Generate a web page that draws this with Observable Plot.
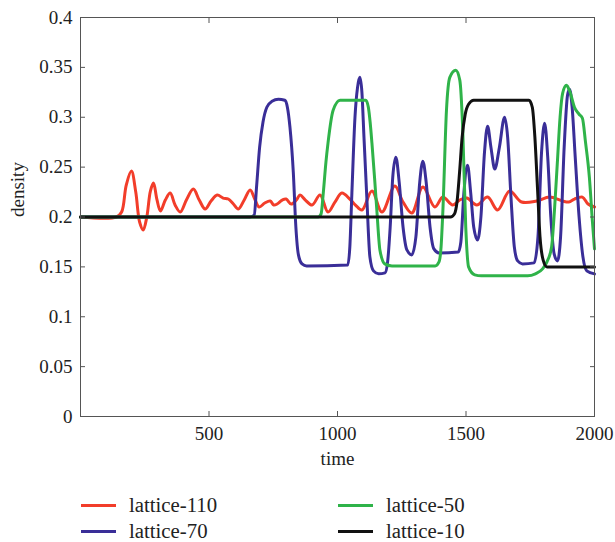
<!DOCTYPE html>
<html>
<head>
<meta charset="utf-8">
<script src="https://cdn.jsdelivr.net/npm/d3@7"></script>
<script src="https://cdn.jsdelivr.net/npm/@observablehq/plot@0.6"></script>
<style>
  html, body { margin: 0; padding: 0; background: #fff; }
  #wrap { position: relative; width: 615px; height: 542px; font-family: "Liberation Serif", "DejaVu Serif", serif; color: #222; }
  .item { position: absolute; display: flex; align-items: center; font-size: 20.8px; line-height: 20px; }
  .sw { width: 35px; height: 3px; margin-right: 13px; }
  svg text { font-family: "Liberation Serif", "DejaVu Serif", serif !important; }
</style>
</head>
<body>
<div id="wrap"></div>
<script>
// ---- data (time, density) ----
const lattice110 = [[0,0.2],[140,0.2],[160,0.205],[178,0.232],[198,0.246],[215,0.225],[230,0.195],[244,0.187],[258,0.2],[272,0.226],[284,0.234],[297,0.218],[311,0.206],[330,0.217],[349,0.224],[368,0.212],[388,0.205],[412,0.217],[439,0.228],[462,0.217],[485,0.208],[508,0.216],[532,0.222],[555,0.219],[575,0.218],[595,0.213],[614,0.208],[637,0.217],[660,0.227],[678,0.218],[695,0.21],[717,0.214],[738,0.216],[752,0.212],[765,0.213],[785,0.217],[800,0.218],[820,0.213],[840,0.217],[854,0.222],[875,0.217],[901,0.212],[932,0.222],[963,0.205],[990,0.215],[1017,0.224],[1048,0.218],[1070,0.212],[1095,0.207],[1134,0.226],[1173,0.205],[1223,0.231],[1255,0.215],[1289,0.204],[1332,0.23],[1379,0.21],[1410,0.22],[1448,0.212],[1475,0.217],[1503,0.219],[1542,0.212],[1584,0.22],[1623,0.207],[1670,0.226],[1716,0.215],[1775,0.216],[1825,0.22],[1876,0.216],[1900,0.215],[1922,0.218],[1953,0.22],[1975,0.213],[2000,0.21]];
const lattice70 = [[0,0.2],[660,0.2],[676,0.202],[685,0.23],[697,0.27],[710,0.295],[725,0.31],[745,0.316],[770,0.318],[795,0.317],[805,0.31],[815,0.29],[828,0.245],[838,0.19],[848,0.162],[862,0.153],[880,0.151],[1040,0.152],[1048,0.17],[1056,0.224],[1068,0.3],[1078,0.33],[1087,0.34],[1095,0.325],[1103,0.28],[1114,0.22],[1126,0.16],[1140,0.146],[1160,0.143],[1185,0.144],[1195,0.155],[1205,0.19],[1215,0.24],[1227,0.26],[1240,0.235],[1255,0.19],[1270,0.167],[1289,0.162],[1305,0.18],[1320,0.235],[1332,0.256],[1345,0.235],[1360,0.19],[1375,0.168],[1395,0.164],[1470,0.165],[1480,0.175],[1492,0.225],[1506,0.252],[1518,0.225],[1530,0.19],[1545,0.177],[1558,0.2],[1572,0.265],[1584,0.291],[1597,0.27],[1612,0.248],[1630,0.27],[1650,0.3],[1662,0.28],[1675,0.22],[1688,0.17],[1701,0.156],[1720,0.153],[1765,0.154],[1780,0.18],[1794,0.265],[1806,0.294],[1818,0.26],[1830,0.2],[1843,0.163],[1856,0.156],[1868,0.18],[1882,0.27],[1895,0.322],[1903,0.328],[1913,0.31],[1925,0.26],[1940,0.2],[1955,0.16],[1970,0.146],[2000,0.143]];
const lattice50 = [[0,0.2],[925,0.2],[936,0.203],[945,0.225],[955,0.255],[963,0.274],[983,0.307],[1010,0.317],[1110,0.317],[1120,0.31],[1127,0.295],[1134,0.274],[1144,0.24],[1153,0.207],[1165,0.167],[1184,0.153],[1212,0.151],[1380,0.151],[1395,0.155],[1403,0.17],[1410,0.206],[1424,0.307],[1437,0.34],[1460,0.347],[1476,0.337],[1487,0.29],[1499,0.19],[1510,0.15],[1534,0.142],[1560,0.141],[1740,0.141],[1770,0.143],[1798,0.148],[1815,0.155],[1833,0.17],[1845,0.21],[1856,0.257],[1866,0.3],[1876,0.324],[1891,0.332],[1905,0.325],[1922,0.31],[1940,0.303],[1953,0.299],[1965,0.275],[1980,0.24],[1992,0.195],[2000,0.168]];
const lattice10 = [[0,0.2],[1440,0.2],[1455,0.203],[1465,0.215],[1475,0.245],[1485,0.28],[1497,0.303],[1510,0.313],[1530,0.317],[1745,0.317],[1758,0.31],[1768,0.28],[1778,0.23],[1788,0.18],[1800,0.157],[1815,0.15],[2000,0.15]];

const seriesNames = ["lattice-110", "lattice-70", "lattice-50", "lattice-10"];
const seriesData = [lattice110, lattice70, lattice50, lattice10];
const seriesColors = ["#f23d2a", "#3a2e98", "#2fb349", "#111111"];
const seriesCurves = ["catmull-rom", "monotone-x", "monotone-x", "monotone-x"];

const xTicks = [500, 1000, 1500, 2000];
const yTicks = [0, 0.05, 0.1, 0.15, 0.2, 0.25, 0.3, 0.35, 0.4];
const xLabel = "time";
const yLabel = "density";

const yFmt = d => d3.format("~g")(d);
const xFmt = d => String(d);
const axisGray = "#555";
const FONT = "'Liberation Serif', 'DejaVu Serif', serif";

const marks = [];
seriesData.forEach((data, i) => {
  marks.push(Plot.line(data, {x: d => d[0], y: d => d[1], stroke: seriesColors[i], strokeWidth: 3, curve: seriesCurves[i]}));
});
marks.push(
  Plot.frame({stroke: axisGray, strokeWidth: 1}),
  // tick labels
  Plot.axisY(yTicks, {anchor: "left", tickSize: 0, tickPadding: 8, tickFormat: yFmt, fontSize: 19, fill: "#222", label: null}),
  Plot.axisX(xTicks, {anchor: "bottom", tickSize: 0, tickPadding: 10, tickFormat: xFmt, fontSize: 19, fill: "#222", label: null}),
  // inward tick marks
  Plot.axisY(yTicks, {anchor: "left", tickSize: 5, dx: 5, tickFormat: () => "", stroke: axisGray, label: null}),
  Plot.axisY(yTicks, {anchor: "right", tickSize: 5, dx: -5, tickFormat: () => "", stroke: axisGray, label: null}),
  Plot.axisX(xTicks, {anchor: "bottom", tickSize: 5, dy: -5, tickFormat: () => "", stroke: axisGray, label: null}),
  Plot.axisX(xTicks, {anchor: "top", tickSize: 5, dy: 5, tickFormat: () => "", stroke: axisGray, label: null}),
  // axis titles
  Plot.text([yLabel], {text: d => d, frameAnchor: "left", rotate: -90, dx: -63, fontSize: 19, fill: "#222"}),
  Plot.text([xLabel], {text: d => d, frameAnchor: "bottom", dy: 48, fontSize: 19, fill: "#222"})
);

const chart = Plot.plot({
  width: 615,
  height: 480,
  marginTop: 17,
  marginBottom: 64,
  marginLeft: 80,
  marginRight: 21,
  x: {domain: [0, 2000]},
  y: {domain: [0, 0.4]},
  style: {fontFamily: FONT, fontSize: "19px", background: "white", color: "#222"},
  marks
});
const wrap = document.getElementById("wrap");
wrap.appendChild(chart);

// legend (two columns, filled column-wise)
const legPos = [[81, 505], [81, 531], [338, 505], [338, 531]];
seriesNames.forEach((name, i) => {
  const it = document.createElement("div");
  it.className = "item";
  it.style.left = legPos[i][0] + "px";
  it.style.top = (legPos[i][1] - 10) + "px";
  const sw = document.createElement("span");
  sw.className = "sw";
  sw.style.background = seriesColors[i];
  const tx = document.createElement("span");
  tx.textContent = name;
  it.appendChild(sw);
  it.appendChild(tx);
  wrap.appendChild(it);
});
</script>
</body>
</html>
